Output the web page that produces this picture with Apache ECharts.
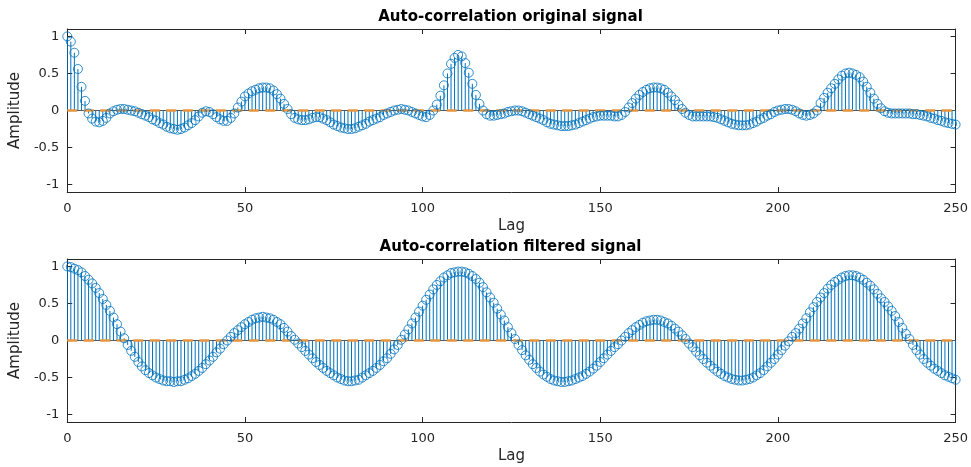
<!DOCTYPE html>
<html>
<head>
<meta charset="utf-8">
<script src="https://cdn.jsdelivr.net/npm/echarts@6/dist/echarts.min.js"></script>
<style>
  html, body { margin: 0; padding: 0; background: #ffffff; }
  #chart { width: 971px; height: 467px; }
</style>
</head>
<body>
<div id="chart"></div>
<script>
// Lags 0..250
const lags = [];
for (let k = 0; k <= 250; k++) lags.push(k);

// Normalised auto-correlation of the raw signal
const originalAcf = [
  1.00, 0.93, 0.78, 0.56, 0.32, 0.13, -0.04, -0.11, -0.15, -0.16,
  -0.14, -0.10, -0.04, -0.01, 0.01, 0.02, 0.02, 0.01, 0.00, -0.01,
  -0.03, -0.05, -0.07, -0.09, -0.12, -0.14, -0.17, -0.19, -0.22, -0.24,
  -0.25, -0.26, -0.25, -0.23, -0.20, -0.17, -0.13, -0.08, -0.03, -0.01,
  -0.02, -0.05, -0.09, -0.12, -0.14, -0.14, -0.10, -0.04, 0.04, 0.12,
  0.19, 0.23, 0.26, 0.28, 0.30, 0.31, 0.31, 0.30, 0.27, 0.22,
  0.16, 0.09, 0.02, -0.05, -0.10, -0.12, -0.13, -0.13, -0.12, -0.10,
  -0.09, -0.09, -0.11, -0.13, -0.16, -0.19, -0.21, -0.23, -0.24, -0.25,
  -0.25, -0.24, -0.22, -0.20, -0.18, -0.15, -0.13, -0.11, -0.09, -0.06,
  -0.04, -0.02, 0.00, 0.01, 0.02, 0.01, 0.00, -0.02, -0.04, -0.06,
  -0.08, -0.09, -0.06, 0.00, 0.08, 0.20, 0.34, 0.50, 0.63, 0.71,
  0.75, 0.73, 0.64, 0.51, 0.36, 0.21, 0.09, 0.00, -0.05, -0.07,
  -0.07, -0.06, -0.05, -0.04, -0.02, -0.01, 0.00, 0.00, -0.01, -0.03,
  -0.05, -0.07, -0.09, -0.11, -0.13, -0.16, -0.18, -0.19, -0.20, -0.21,
  -0.21, -0.21, -0.20, -0.19, -0.17, -0.15, -0.13, -0.11, -0.09, -0.08,
  -0.07, -0.07, -0.07, -0.07, -0.08, -0.08, -0.06, -0.02, 0.04, 0.10,
  0.16, 0.21, 0.25, 0.28, 0.30, 0.31, 0.31, 0.30, 0.28, 0.24,
  0.19, 0.14, 0.08, 0.02, -0.03, -0.06, -0.08, -0.08, -0.08, -0.08,
  -0.08, -0.08, -0.09, -0.10, -0.12, -0.14, -0.16, -0.18, -0.19, -0.20,
  -0.20, -0.20, -0.19, -0.17, -0.15, -0.12, -0.10, -0.07, -0.05, -0.02,
  0.00, 0.01, 0.02, 0.02, 0.01, -0.01, -0.04, -0.06, -0.07, -0.06,
  -0.04, 0.00, 0.10, 0.17, 0.24, 0.30, 0.36, 0.42, 0.47, 0.50,
  0.51, 0.50, 0.48, 0.45, 0.39, 0.32, 0.24, 0.16, 0.09, 0.03,
  -0.01, -0.03, -0.04, -0.04, -0.04, -0.04, -0.04, -0.04, -0.05, -0.05,
  -0.06, -0.07, -0.08, -0.10, -0.11, -0.13, -0.14, -0.16, -0.17, -0.18,
  -0.19
];

// Normalised auto-correlation after band-pass filtering
const filteredAcf = [
  1.00, 0.99, 0.97, 0.95, 0.92, 0.87, 0.82, 0.77, 0.71, 0.64,
  0.56, 0.48, 0.40, 0.31, 0.22, 0.12, 0.03, -0.06, -0.14, -0.22,
  -0.29, -0.35, -0.40, -0.44, -0.47, -0.50, -0.52, -0.54, -0.55, -0.55,
  -0.56, -0.55, -0.55, -0.53, -0.51, -0.48, -0.45, -0.41, -0.37, -0.32,
  -0.27, -0.22, -0.16, -0.11, -0.05, 0.00, 0.05, 0.10, 0.14, 0.18,
  0.22, 0.25, 0.28, 0.30, 0.31, 0.32, 0.31, 0.30, 0.28, 0.25,
  0.22, 0.17, 0.12, 0.06, 0.01, -0.04, -0.09, -0.14, -0.19, -0.24,
  -0.29, -0.33, -0.37, -0.41, -0.44, -0.47, -0.50, -0.52, -0.54, -0.55,
  -0.55, -0.54, -0.53, -0.50, -0.47, -0.44, -0.41, -0.37, -0.33, -0.28,
  -0.24, -0.18, -0.12, -0.06, 0.01, 0.08, 0.15, 0.23, 0.31, 0.39,
  0.47, 0.55, 0.62, 0.69, 0.75, 0.80, 0.85, 0.88, 0.91, 0.92,
  0.93, 0.93, 0.92, 0.90, 0.87, 0.83, 0.78, 0.72, 0.65, 0.58,
  0.51, 0.43, 0.35, 0.27, 0.18, 0.10, 0.02, -0.06, -0.13, -0.20,
  -0.26, -0.32, -0.37, -0.42, -0.46, -0.49, -0.52, -0.54, -0.55, -0.56,
  -0.56, -0.55, -0.54, -0.52, -0.50, -0.48, -0.45, -0.42, -0.38, -0.34,
  -0.29, -0.24, -0.19, -0.14, -0.09, -0.05, 0.00, 0.05, 0.10, 0.14,
  0.18, 0.21, 0.24, 0.26, 0.27, 0.28, 0.28, 0.27, 0.25, 0.23,
  0.20, 0.16, 0.12, 0.07, 0.02, -0.04, -0.09, -0.15, -0.20, -0.25,
  -0.30, -0.34, -0.38, -0.42, -0.45, -0.48, -0.50, -0.52, -0.53, -0.54,
  -0.54, -0.53, -0.52, -0.50, -0.47, -0.44, -0.40, -0.35, -0.30, -0.25,
  -0.19, -0.13, -0.07, -0.01, 0.05, 0.10, 0.16, 0.23, 0.30, 0.38,
  0.45, 0.52, 0.58, 0.64, 0.70, 0.75, 0.79, 0.82, 0.85, 0.87,
  0.88, 0.88, 0.87, 0.85, 0.82, 0.78, 0.74, 0.69, 0.63, 0.57,
  0.52, 0.46, 0.40, 0.33, 0.25, 0.17, 0.09, 0.02, -0.06, -0.13,
  -0.19, -0.25, -0.30, -0.34, -0.38, -0.41, -0.44, -0.47, -0.49, -0.51,
  -0.53
];

// Zero reference line drawn across every lag
const zeroLine = [[0, 0], [250, 0]];

const titles = ['Auto-correlation original signal', 'Auto-correlation filtered signal'];
const xTicks = [0, 50, 100, 150, 200, 250];
const yTicks = [-1, -0.5, 0, 0.5, 1];
const xLabel = 'Lag';
const yLabel = 'Amplitude';

const FONT = 'DejaVu Sans';
const INK = '#262626';
const BLUE = '#0072BD';
const ORANGE = '#E8953F';

const panels = [
  { top: 29, height: 163, data: originalAcf, titleY: 19 },
  { top: 259, height: 163, data: filteredAcf, titleY: 249 }
];

const grid = [], xAxis = [], yAxis = [], series = [], title = [];

panels.forEach((p, gi) => {
  grid.push({ left: 65, right: 15, top: p.top, height: p.height, containLabel: false });

  title.push({
    text: titles[gi], left: 510.5, top: p.titleY - 9, textAlign: 'center', padding: 0,
    textStyle: { fontFamily: FONT, fontSize: 15, fontWeight: 'bold', color: '#000' }
  });

  const xBase = {
    gridIndex: gi, type: 'value', min: 0, max: 250, interval: 50,
    axisLine: { show: true, onZero: false, lineStyle: { color: INK, width: 1 } },
    splitLine: { show: false }
  };
  xAxis.push(Object.assign({}, xBase, {
    position: 'bottom',
    axisLabel: { show: true, customValues: xTicks, color: INK, fontFamily: FONT, fontSize: 13, margin: 10 },
    axisTick: { show: true, inside: true, length: 5, customValues: xTicks, lineStyle: { color: INK } },
    name: xLabel, nameLocation: 'middle', nameGap: 27,
    nameTextStyle: { fontFamily: FONT, fontSize: 15, color: INK }
  }));
  xAxis.push(Object.assign({}, xBase, {
    position: 'top',
    axisLabel: { show: false },
    axisTick: { show: true, inside: true, length: 5, customValues: xTicks, lineStyle: { color: INK } }
  }));

  const yBase = {
    gridIndex: gi, type: 'value', min: -1.1, max: 1.1,
    axisLine: { show: true, onZero: false, lineStyle: { color: INK, width: 1 } },
    splitLine: { show: false }
  };
  yAxis.push(Object.assign({}, yBase, {
    position: 'left',
    axisLabel: { show: true, customValues: yTicks, color: INK, fontFamily: FONT, fontSize: 13, margin: 8 },
    axisTick: { show: true, inside: true, length: 5, customValues: yTicks, lineStyle: { color: INK } },
    name: yLabel, nameLocation: 'middle', nameGap: 36,
    nameTextStyle: { fontFamily: FONT, fontSize: 15, color: INK }
  }));
  yAxis.push(Object.assign({}, yBase, {
    position: 'right',
    axisLabel: { show: false },
    axisTick: { show: true, inside: true, length: 5, customValues: yTicks, lineStyle: { color: INK } }
  }));

  const xi = gi * 2, yi = gi * 2;
  const points = p.data.map((v, i) => [lags[i], v]);

  // stem baseline
  series.push({
    type: 'line', xAxisIndex: xi, yAxisIndex: yi, data: zeroLine,
    symbol: 'none', silent: true, z: 1,
    lineStyle: { color: '#5a5a5a', width: 1 }
  });

  // vertical stems from the baseline to each value
  series.push({
    type: 'custom', xAxisIndex: xi, yAxisIndex: yi, data: points, silent: true, z: 2,
    clip: true,
    renderItem: function (params, api) {
      const a = api.coord([api.value(0), 0]);
      const b = api.coord([api.value(0), api.value(1)]);
      return {
        type: 'line',
        shape: { x1: a[0], y1: a[1], x2: b[0], y2: b[1] },
        style: { stroke: BLUE, lineWidth: 1 }
      };
    }
  });

  // dashed zero line
  series.push({
    type: 'line', xAxisIndex: xi, yAxisIndex: yi, data: zeroLine,
    symbol: 'none', silent: true, z: 3,
    lineStyle: { color: ORANGE, width: 2.5, type: [10, 6.5] }
  });

  // open circle markers at the stem tips
  series.push({
    type: 'scatter', xAxisIndex: xi, yAxisIndex: yi, data: points,
    symbol: 'circle', symbolSize: 9, silent: true, z: 4,
    itemStyle: { color: 'rgba(0,0,0,0)', borderColor: BLUE, borderWidth: 1 }
  });
});

const chart = echarts.init(document.getElementById('chart'), null, { renderer: 'canvas' });
chart.setOption({
  animation: false,
  backgroundColor: '#ffffff',
  title: title,
  grid: grid,
  xAxis: xAxis,
  yAxis: yAxis,
  series: series
});
</script>
</body>
</html>
